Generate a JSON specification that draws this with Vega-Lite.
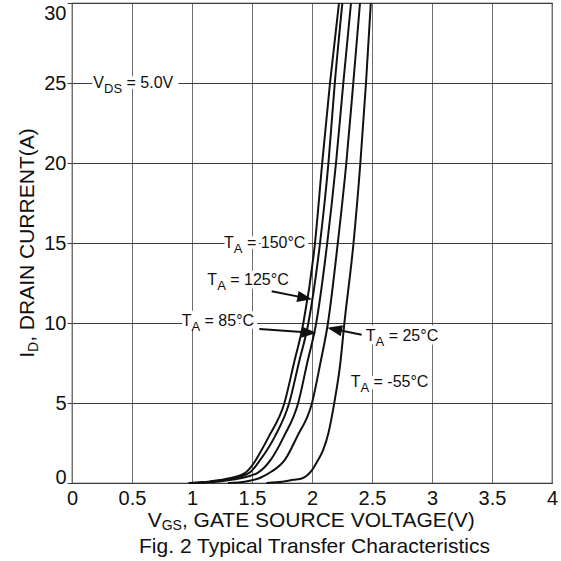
{
  "$schema": "https://vega.github.io/schema/vega-lite/v6.json",
  "width": 480,
  "height": 480,
  "autosize": {"type": "none"},
  "padding": {"left": 72, "top": 3, "right": 9, "bottom": 78},
  "background": "white",
  "config": {
    "font": "Liberation Sans",
    "view": {"stroke": "#222222", "strokeWidth": 1.2},
    "axis": {"labelFont": "Liberation Sans", "labelColor": "#111111"}
  },
  "datasets": {
    "curves": [
      {"temp": "150", "x": 0.97, "y": 0},
      {"temp": "150", "x": 1.15, "y": 0.1},
      {"temp": "150", "x": 1.3, "y": 0.28},
      {"temp": "150", "x": 1.44, "y": 0.62},
      {"temp": "150", "x": 1.52, "y": 1.3},
      {"temp": "150", "x": 1.56, "y": 1.8},
      {"temp": "150", "x": 1.64, "y": 2.9},
      {"temp": "150", "x": 1.77, "y": 5},
      {"temp": "150", "x": 1.85, "y": 7.5},
      {"temp": "150", "x": 1.928, "y": 10},
      {"temp": "150", "x": 2.025, "y": 15},
      {"temp": "150", "x": 2.085, "y": 20},
      {"temp": "150", "x": 2.15, "y": 25},
      {"temp": "150", "x": 2.225, "y": 30},
      {"temp": "125", "x": 0.99, "y": 0},
      {"temp": "125", "x": 1.17, "y": 0.1},
      {"temp": "125", "x": 1.33, "y": 0.28},
      {"temp": "125", "x": 1.48, "y": 0.65},
      {"temp": "125", "x": 1.57, "y": 1.46},
      {"temp": "125", "x": 1.69, "y": 2.9},
      {"temp": "125", "x": 1.81, "y": 5},
      {"temp": "125", "x": 1.89, "y": 7.5},
      {"temp": "125", "x": 1.97, "y": 10},
      {"temp": "125", "x": 2.067, "y": 15},
      {"temp": "125", "x": 2.137, "y": 20},
      {"temp": "125", "x": 2.19, "y": 25},
      {"temp": "125", "x": 2.253, "y": 30},
      {"temp": "85", "x": 1.03, "y": 0},
      {"temp": "85", "x": 1.22, "y": 0.1},
      {"temp": "85", "x": 1.39, "y": 0.28},
      {"temp": "85", "x": 1.55, "y": 0.65},
      {"temp": "85", "x": 1.657, "y": 1.46},
      {"temp": "85", "x": 1.765, "y": 2.9},
      {"temp": "85", "x": 1.885, "y": 5},
      {"temp": "85", "x": 1.96, "y": 7.5},
      {"temp": "85", "x": 2.035, "y": 10},
      {"temp": "85", "x": 2.127, "y": 15},
      {"temp": "85", "x": 2.2, "y": 20},
      {"temp": "85", "x": 2.261, "y": 25},
      {"temp": "85", "x": 2.325, "y": 30},
      {"temp": "25", "x": 1.3, "y": 0},
      {"temp": "25", "x": 1.45, "y": 0.1},
      {"temp": "25", "x": 1.56, "y": 0.3},
      {"temp": "25", "x": 1.66, "y": 0.7},
      {"temp": "25", "x": 1.775, "y": 1.46},
      {"temp": "25", "x": 1.876, "y": 2.9},
      {"temp": "25", "x": 2.0, "y": 5},
      {"temp": "25", "x": 2.07, "y": 7.5},
      {"temp": "25", "x": 2.133, "y": 10},
      {"temp": "25", "x": 2.215, "y": 15},
      {"temp": "25", "x": 2.286, "y": 20},
      {"temp": "25", "x": 2.344, "y": 25},
      {"temp": "25", "x": 2.4, "y": 30},
      {"temp": "-55", "x": 1.62, "y": 0},
      {"temp": "-55", "x": 1.706, "y": 0.04},
      {"temp": "-55", "x": 1.844, "y": 0.2},
      {"temp": "-55", "x": 1.92, "y": 0.3},
      {"temp": "-55", "x": 1.956, "y": 0.45},
      {"temp": "-55", "x": 2.0, "y": 0.8},
      {"temp": "-55", "x": 2.04, "y": 1.3},
      {"temp": "-55", "x": 2.094, "y": 2.08},
      {"temp": "-55", "x": 2.136, "y": 3.1},
      {"temp": "-55", "x": 2.19, "y": 5.2},
      {"temp": "-55", "x": 2.233, "y": 7.3},
      {"temp": "-55", "x": 2.27, "y": 10},
      {"temp": "-55", "x": 2.346, "y": 15},
      {"temp": "-55", "x": 2.403, "y": 20},
      {"temp": "-55", "x": 2.45, "y": 25},
      {"temp": "-55", "x": 2.49, "y": 30}
    ],
    "tempLabels": [
      {"x": 1.267, "y": 15, "main": "T", "sub": "A", "rest": "= 150°C", "full": "TA = 150°C"},
      {"x": 1.128, "y": 12.7, "main": "T", "sub": "A", "rest": "= 125°C", "full": "TA = 125°C"},
      {"x": 0.914, "y": 10.1, "main": "T", "sub": "A", "rest": "= 85°C", "full": "TA = 85°C"},
      {"x": 2.448, "y": 9.2, "main": "T", "sub": "A", "rest": "= 25°C", "full": "TA = 25°C"},
      {"x": 2.322, "y": 6.33, "main": "T", "sub": "A", "rest": "= -55°C", "full": "TA = -55°C"}
    ],
    "vdsLabel": [
      {"x": 0.178, "y": 25, "main": "V", "sub": "DS", "rest": "= 5.0V", "full": "VDS = 5.0V"}
    ],
    "arrows": [
      {"arrow": "125", "x": 1.664, "y": 11.98},
      {"arrow": "125", "x": 1.94, "y": 11.57},
      {"arrow": "85", "x": 1.561, "y": 9.62},
      {"arrow": "85", "x": 1.975, "y": 9.4},
      {"arrow": "25", "x": 2.414, "y": 9.27},
      {"arrow": "25", "x": 2.188, "y": 9.61}
    ],
    "heads": [
      {"arrow": "125", "x": 1.94, "y": 11.57},
      {"arrow": "85", "x": 1.975, "y": 9.4},
      {"arrow": "25", "x": 2.188, "y": 9.61}
    ]
  },
  "layer": [
    {
      "data": {"name": "curves"},
      "mark": {"type": "line", "interpolate": "monotone", "color": "#111111", "strokeWidth": 2},
      "encoding": {
        "x": {
          "field": "x", "type": "quantitative",
          "scale": {"domain": [0, 4], "nice": false, "zero": false},
          "axis": {
            "values": [0, 0.5, 1, 1.5, 2, 2.5, 3, 3.5, 4],
            "format": "~g",
            "title": null,
            "grid": true, "gridColor": "#6e6e6e", "gridWidth": 1, "gridOpacity": 1,
            "domain": false, "ticks": false,
            "labelFontSize": 20, "labelPadding": 5,
            "labelFlush": false, "labelOverlap": false
          }
        },
        "y": {
          "field": "y", "type": "quantitative",
          "scale": {"domain": [0, 30], "nice": false},
          "axis": {
            "values": [0, 5, 10, 15, 20, 25, 30],
            "title": null,
            "grid": true, "gridColor": "#3c3c3c", "gridWidth": 1, "gridOpacity": 1,
            "domain": false, "ticks": true, "tickSize": 5, "tickColor": "#3c3c3c",
            "labelFontSize": 20, "labelPadding": 1,
            "labelBaseline": {
              "condition": [
                {"test": "datum.value === 30", "value": "top"},
                {"test": "datum.value === 0", "value": "alphabetic"}
              ],
              "value": "middle"
            },
            "labelFlush": false, "labelOverlap": false
          }
        },
        "detail": {"field": "temp"}
      }
    },
    {
      "data": {"name": "arrows"},
      "mark": {"type": "line", "color": "#111111", "strokeWidth": 2},
      "encoding": {
        "x": {"field": "x", "type": "quantitative"},
        "y": {"field": "y", "type": "quantitative"},
        "detail": {"field": "arrow"}
      }
    },
    {
      "data": {"name": "heads"},
      "transform": [{"filter": "datum.arrow === '125'"}],
      "mark": {"type": "point", "shape": "M-1,-0.75L1,0L-1,0.75Z", "filled": true, "color": "#111111", "opacity": 1, "strokeWidth": 0, "size": 220, "angle": 11},
      "encoding": {
        "x": {"field": "x", "type": "quantitative"},
        "y": {"field": "y", "type": "quantitative"}
      }
    },
    {
      "data": {"name": "heads"},
      "transform": [{"filter": "datum.arrow === '85'"}],
      "mark": {"type": "point", "shape": "M-1,-0.75L1,0L-1,0.75Z", "filled": true, "color": "#111111", "opacity": 1, "strokeWidth": 0, "size": 220, "angle": 4},
      "encoding": {
        "x": {"field": "x", "type": "quantitative"},
        "y": {"field": "y", "type": "quantitative"}
      }
    },
    {
      "data": {"name": "heads"},
      "transform": [{"filter": "datum.arrow === '25'"}],
      "mark": {"type": "point", "shape": "M-1,-0.75L1,0L-1,0.75Z", "filled": true, "color": "#111111", "opacity": 1, "strokeWidth": 0, "size": 220, "angle": 191.5},
      "encoding": {
        "x": {"field": "x", "type": "quantitative"},
        "y": {"field": "y", "type": "quantitative"}
      }
    },
    {
      "data": {"name": "tempLabels"},
      "mark": {"type": "text", "align": "left", "baseline": "middle", "fontSize": 16, "fill": "white", "stroke": "white", "strokeWidth": 7, "strokeJoin": "round"},
      "encoding": {
        "x": {"field": "x", "type": "quantitative"},
        "y": {"field": "y", "type": "quantitative"},
        "text": {"field": "full"}
      }
    },
    {
      "data": {"name": "vdsLabel"},
      "mark": {"type": "text", "align": "left", "baseline": "middle", "fontSize": 16, "fill": "white", "stroke": "white", "strokeWidth": 7, "strokeJoin": "round"},
      "encoding": {
        "x": {"field": "x", "type": "quantitative"},
        "y": {"field": "y", "type": "quantitative"},
        "text": {"field": "full"}
      }
    },
    {
      "data": {"name": "tempLabels"},
      "mark": {"type": "text", "align": "left", "baseline": "middle", "fontSize": 16, "color": "#111111"},
      "encoding": {
        "x": {"field": "x", "type": "quantitative"},
        "y": {"field": "y", "type": "quantitative"},
        "text": {"field": "main"}
      }
    },
    {
      "data": {"name": "tempLabels"},
      "mark": {"type": "text", "align": "left", "baseline": "middle", "fontSize": 13, "dx": 9.8, "dy": 6, "color": "#111111"},
      "encoding": {
        "x": {"field": "x", "type": "quantitative"},
        "y": {"field": "y", "type": "quantitative"},
        "text": {"field": "sub"}
      }
    },
    {
      "data": {"name": "tempLabels"},
      "mark": {"type": "text", "align": "left", "baseline": "middle", "fontSize": 16, "dx": 22.9, "color": "#111111"},
      "encoding": {
        "x": {"field": "x", "type": "quantitative"},
        "y": {"field": "y", "type": "quantitative"},
        "text": {"field": "rest"}
      }
    },
    {
      "data": {"name": "vdsLabel"},
      "mark": {"type": "text", "align": "left", "baseline": "middle", "fontSize": 16, "color": "#111111"},
      "encoding": {
        "x": {"field": "x", "type": "quantitative"},
        "y": {"field": "y", "type": "quantitative"},
        "text": {"field": "main"}
      }
    },
    {
      "data": {"name": "vdsLabel"},
      "mark": {"type": "text", "align": "left", "baseline": "middle", "fontSize": 13, "dx": 10.7, "dy": 6, "color": "#111111"},
      "encoding": {
        "x": {"field": "x", "type": "quantitative"},
        "y": {"field": "y", "type": "quantitative"},
        "text": {"field": "sub"}
      }
    },
    {
      "data": {"name": "vdsLabel"},
      "mark": {"type": "text", "align": "left", "baseline": "middle", "fontSize": 16, "dx": 33.2, "color": "#111111"},
      "encoding": {
        "x": {"field": "x", "type": "quantitative"},
        "y": {"field": "y", "type": "quantitative"},
        "text": {"field": "rest"}
      }
    },
    {
      "data": {"values": [{"x": 2, "y": 0, "t": "V"}]},
      "mark": {"type": "text", "align": "left", "baseline": "alphabetic", "fontSize": 21, "dx": -164.3, "dy": 43.5, "color": "#111111"},
      "encoding": {
        "x": {"field": "x", "type": "quantitative"},
        "y": {"field": "y", "type": "quantitative"},
        "text": {"field": "t"}
      }
    },
    {
      "data": {"values": [{"x": 2, "y": 0, "t": "GS"}]},
      "mark": {"type": "text", "align": "left", "baseline": "alphabetic", "fontSize": 14, "dx": -150.3, "dy": 47, "color": "#111111"},
      "encoding": {
        "x": {"field": "x", "type": "quantitative"},
        "y": {"field": "y", "type": "quantitative"},
        "text": {"field": "t"}
      }
    },
    {
      "data": {"values": [{"x": 2, "y": 0, "t": ", GATE SOURCE VOLTAGE(V)"}]},
      "mark": {"type": "text", "align": "left", "baseline": "alphabetic", "fontSize": 21, "dx": -130.1, "dy": 43.5, "color": "#111111"},
      "encoding": {
        "x": {"field": "x", "type": "quantitative"},
        "y": {"field": "y", "type": "quantitative"},
        "text": {"field": "t"}
      }
    },
    {
      "data": {"values": [{"x": 2, "y": 0, "t": "Fig. 2 Typical Transfer Characteristics"}]},
      "mark": {"type": "text", "align": "center", "baseline": "alphabetic", "fontSize": 21, "dx": 2.5, "dy": 70, "color": "#111111"},
      "encoding": {
        "x": {"field": "x", "type": "quantitative"},
        "y": {"field": "y", "type": "quantitative"},
        "text": {"field": "t"}
      }
    },
    {
      "data": {"values": [{"x": 0, "y": 15, "t": "I"}]},
      "mark": {"type": "text", "align": "left", "baseline": "alphabetic", "angle": -90, "fontSize": 21, "dx": -114.7, "dy": -38, "color": "#111111"},
      "encoding": {
        "x": {"field": "x", "type": "quantitative"},
        "y": {"field": "y", "type": "quantitative"},
        "text": {"field": "t"}
      }
    },
    {
      "data": {"values": [{"x": 0, "y": 15, "t": "D"}]},
      "mark": {"type": "text", "align": "left", "baseline": "alphabetic", "angle": -90, "fontSize": 14, "dx": -108.9, "dy": -34, "color": "#111111"},
      "encoding": {
        "x": {"field": "x", "type": "quantitative"},
        "y": {"field": "y", "type": "quantitative"},
        "text": {"field": "t"}
      }
    },
    {
      "data": {"values": [{"x": 0, "y": 15, "t": ", DRAIN CURRENT(A)"}]},
      "mark": {"type": "text", "align": "left", "baseline": "alphabetic", "angle": -90, "fontSize": 21, "dx": -98.8, "dy": -38, "color": "#111111"},
      "encoding": {
        "x": {"field": "x", "type": "quantitative"},
        "y": {"field": "y", "type": "quantitative"},
        "text": {"field": "t"}
      }
    }
  ]
}
